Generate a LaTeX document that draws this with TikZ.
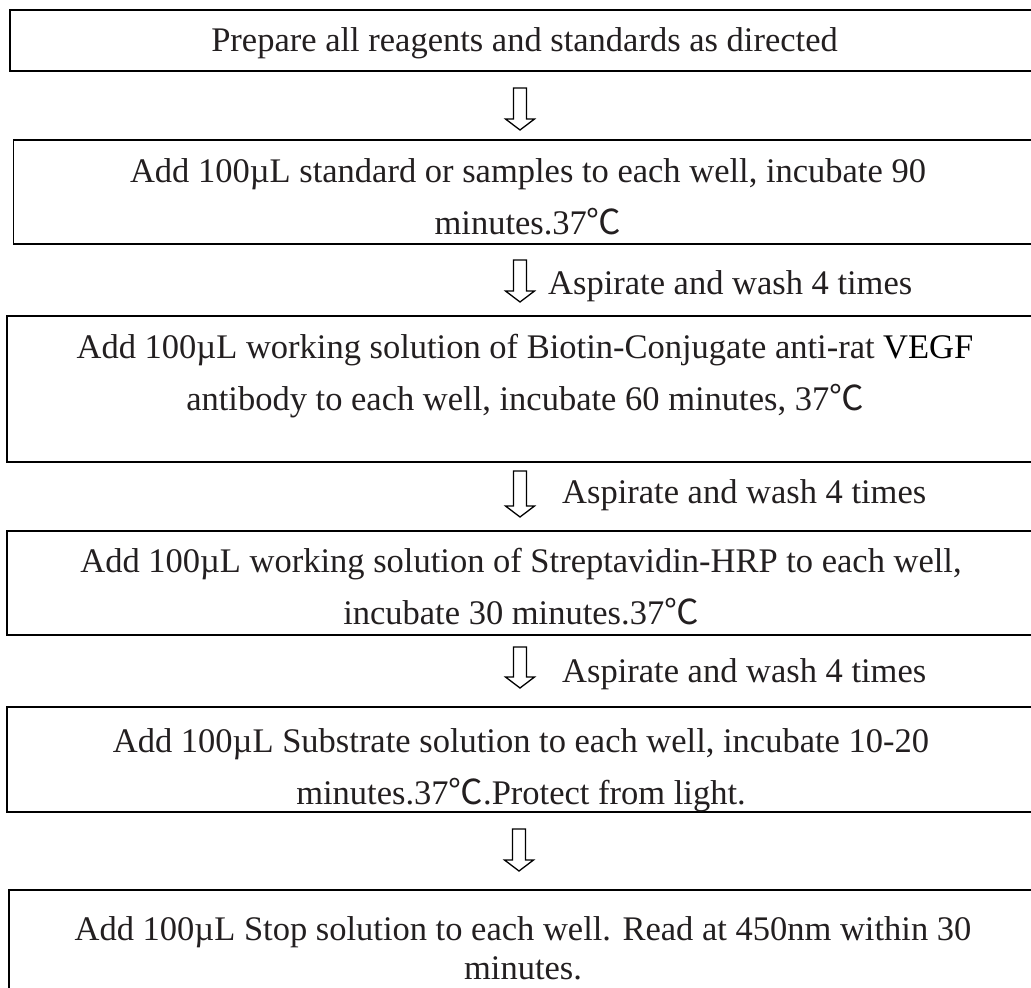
\documentclass[tikz,border=0pt]{standalone}
\usepackage{fontspec}
\setmainfont{Liberation Serif}
\newfontfamily\cjkfont{Noto Sans CJK SC}
\usetikzlibrary{calc}
\newcommand\degC{{\cjkfont ℃}}
\definecolor{ink}{HTML}{231F20}
\newcommand\hollowarrow[2]{%
  \draw[harrow] ($(#1)+(-6.5,0)$) -- ($(#2)+(-6.5,-11)$) -- ($(#2)+(-14.5,-11)$) -- (#2)
    -- ($(#2)+(14.5,-11)$) -- ($(#2)+(6.5,-11)$) -- ($(#1)+(6.5,0)$) -- cycle;}
\begin{document}
\begin{tikzpicture}[x=1pt,y=-1pt,
  box/.style={draw=black,line width=1.8pt,inner sep=0pt,outer sep=0pt},
  txt/.style={text=ink,font=\fontsize{34.5}{52}\selectfont,inner sep=0pt,anchor=base},
  harrow/.style={draw=black,line width=1.3pt,fill=white,line join=miter}]
\clip (0,0) rectangle (1031,988);
\fill[white] (0,0) rectangle (1031,988);

% boxes
\node[box,minimum width=1029pt,minimum height=61pt]  (b1) at (524.5,40.5) {};
\node[box,minimum width=1029pt,minimum height=104pt] (b2) at (528,192) {};
\node[box,minimum width=1036pt,minimum height=146pt] (b3) at (525,389) {};
\node[box,minimum width=1028pt,minimum height=104pt] (b4) at (521,583) {};
\node[box,minimum width=1028pt,minimum height=105pt] (b5) at (521,759.5) {};
\node[box,minimum width=1028pt,minimum height=130pt] (b6) at (523,955) {};

% texts
\node[txt] (t1)  at (524.5,51) {Prepare all reagents and standards as directed};
\node[txt] (t2a) at (528,182) {Add 100µL standard or samples to each well, incubate 90};
\node[txt] (t2b) at (528,234) {minutes.37\degC};
\node[txt] (t3a) at (525,358) {Add 100µL working solution of Biotin-Conjugate anti-rat \textcolor{black}{VEGF}};
\node[txt] (t3b) at (525,410) {antibody to each well, incubate 60 minutes, 37\degC};
\node[txt] (t4a) at (521,572) {Add 100µL working solution of Streptavidin-HRP to each well,};
\node[txt] (t4b) at (521,624) {incubate 30 minutes.37\degC};
\node[txt] (t5a) at (521,752) {Add 100µL Substrate solution to each well, incubate 10-20};
\node[txt] (t5b) at (521,804) {minutes.37\degC.Protect from light.};
\node[txt] (t6a) at (523,940) {Add 100µL Stop solution to each well. Read at 450nm within 30};
\node[txt] (t6b) at (523,979) {minutes.};

% arrows
\coordinate (a1s) at (520,88);  \coordinate (a1e) at (520,130);
\coordinate (a2s) at (520,260); \coordinate (a2e) at (520,302);
\coordinate (a3s) at (520,471); \coordinate (a3e) at (520,517);
\coordinate (a4s) at (520,647); \coordinate (a4e) at (520,688);
\coordinate (a5s) at (519,829); \coordinate (a5e) at (519,871);
\hollowarrow{a1s}{a1e}
\hollowarrow{a2s}{a2e}
\hollowarrow{a3s}{a3e}
\hollowarrow{a4s}{a4e}
\hollowarrow{a5s}{a5e}

% arrow labels
\node[txt,anchor=base west] (l2) at (548,294) {Aspirate and wash 4 times};
\node[txt,anchor=base west] (l3) at (562,503) {Aspirate and wash 4 times};
\node[txt,anchor=base west] (l4) at (562,682) {Aspirate and wash 4 times};
\end{tikzpicture}
\end{document}
